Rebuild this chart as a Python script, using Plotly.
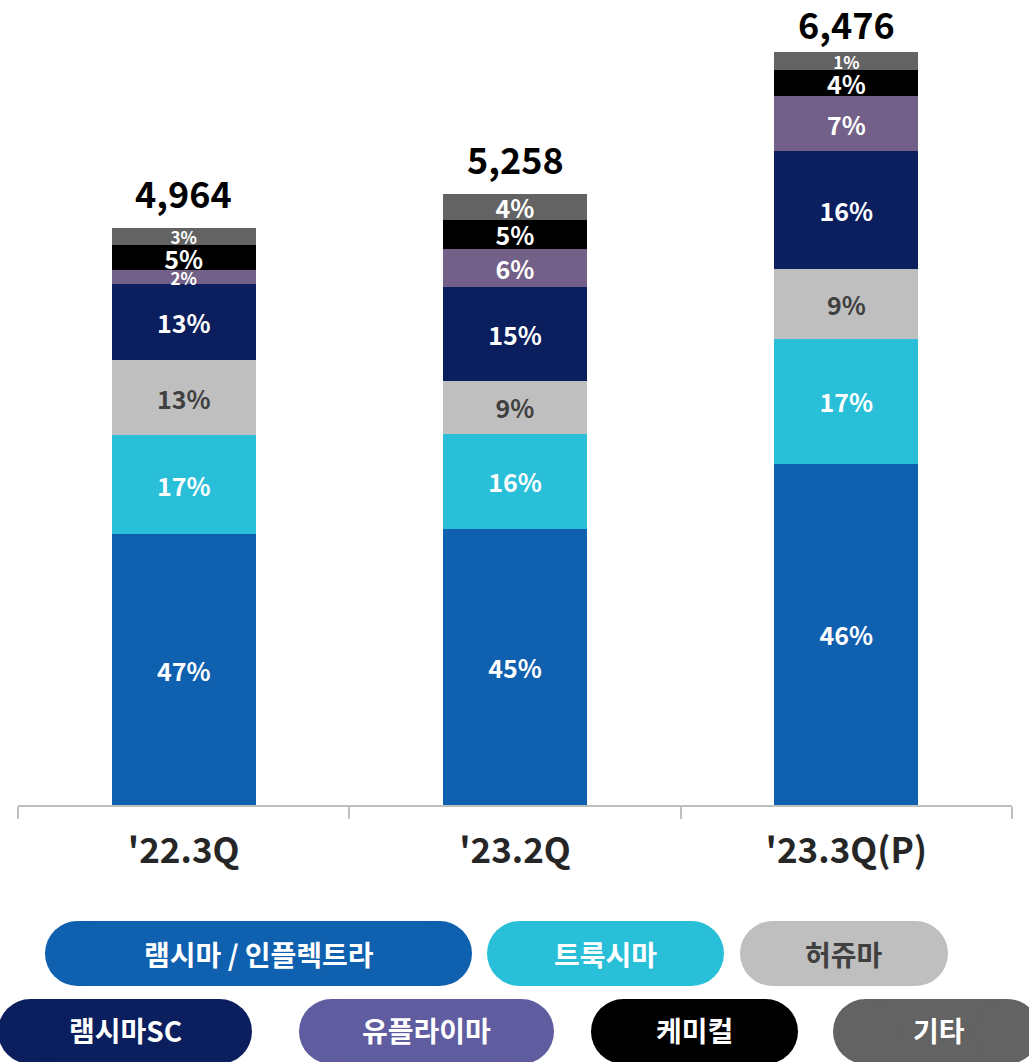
import plotly.graph_objects as go

# ---------------- data ----------------
categories = ["'22.3Q", "'23.2Q", "'23.3Q(P)"]
totals = [4964, 5258, 6476]

series_names = ["램시마 / 인플렉트라", "트룩시마", "허쥬마", "램시마SC", "유플라이마", "케미컬", "기타"]

remsima = [2329, 2376, 2935]
truxima = [851, 817, 1072]
herzuma = [645, 456, 602]
remsima_sc = [654, 808, 1015]
yuflyma = [120, 327, 473]
chemical = [215, 250, 224]
others = [150, 224, 155]

remsima_pct = ["47%", "45%", "46%"]
truxima_pct = ["17%", "16%", "17%"]
herzuma_pct = ["13%", "9%", "9%"]
remsima_sc_pct = ["13%", "15%", "16%"]
yuflyma_pct = ["2%", "6%", "7%"]
chemical_pct = ["5%", "5%", "4%"]
others_pct = ["3%", "4%", "1%"]

# ---------------- style ----------------
W, H = 1029, 1062
ML, MR, MT, MB = 18, 17, 10, 257
PW, PH = W - ML - MR, H - MT - MB
FONT = "Noto Sans CJK KR"

bar_colors = ["#1060b0", "#29bfd8", "#bfbfbf", "#0b1f5e", "#736089", "#000000", "#636363"]
legend_colors = ["#1060b0", "#29bfd8", "#bfbfbf", "#0b1f5e", "#605ca0", "#000000", "#636363"]
text_colors = ["white", "white", "#404040", "white", "white", "white", "white"]

values = [remsima, truxima, herzuma, remsima_sc, yuflyma, chemical, others]
labels = [remsima_pct, truxima_pct, herzuma_pct, remsima_sc_pct, yuflyma_pct, chemical_pct, others_pct]

fig = go.Figure()
for i, (name, vals, labs) in enumerate(zip(series_names, values, labels)):
    sizes = [17 if v < 180 else 25 for v in vals]
    fig.add_trace(go.Bar(
        x=categories, y=vals, name=name,
        marker=dict(color=bar_colors[i], line=dict(width=0)),
        text=[f"<b>{t}</b>" for t in labs],
        textposition="inside", insidetextanchor="middle",
        constraintext="none",
        textfont=dict(family=FONT, size=sizes, color=text_colors[i]),
        hoverinfo="skip",
    ))

# total labels (the tallest one sits a little closer to its bar)
total_shift = [8, 8, 1]
for c, t, s in zip(categories, totals, total_shift):
    fig.add_annotation(x=c, y=t, text=f"<b>{t:,}</b>", showarrow=False,
                       yanchor="bottom", yshift=s,
                       font=dict(family=FONT, size=36, color="#000000"))

ymax = PH * 6476 / 753

# legend pills
def px2paper_x(px):
    return (px - ML) / PW

def px2paper_y(py):
    return (MT + PH - py) / PH

pills = [
    (45, 472, 921, 986), (487, 724, 921, 986), (740, 948, 921, 986),
    (-2, 252, 999, 1064), (299, 554, 999, 1064), (591, 798, 999, 1064), (833, 1040, 999, 1064),
]
shapes = []
for i, (x0, x1, y0, y1) in enumerate(pills):
    r = (y1 - y0) / 2
    col = legend_colors[i]
    shapes.append(dict(type="rect", xref="paper", yref="paper",
                       x0=px2paper_x(x0 + r), x1=px2paper_x(x1 - r),
                       y0=px2paper_y(y1), y1=px2paper_y(y0),
                       fillcolor=col, line=dict(width=0), layer="above"))
    for cx in (x0 + r, x1 - r):
        shapes.append(dict(type="circle", xref="paper", yref="paper",
                           x0=px2paper_x(cx - r), x1=px2paper_x(cx + r),
                           y0=px2paper_y(y1), y1=px2paper_y(y0),
                           fillcolor=col, line=dict(width=0), layer="above"))
    tx = (x0 + x1) / 2 if i != 6 else 939
    ty = (y0 + y1) / 2 if i < 3 else 1030
    fig.add_annotation(xref="paper", yref="paper", x=px2paper_x(tx), y=px2paper_y(ty),
                       text=f"<b>{series_names[i]}</b>", showarrow=False,
                       xanchor="center", yanchor="middle",
                       font=dict(family=FONT, size=28,
                                 color="#404040" if i == 2 else "white"))

fig.update_layout(
    width=W, height=H,
    margin=dict(l=ML, r=MR, t=MT, b=MB, pad=0),
    barmode="stack", bargap=0.565,
    plot_bgcolor="white", paper_bgcolor="white",
    showlegend=False,
    shapes=shapes,
    font=dict(family=FONT),
)
fig.update_xaxes(
    showline=True, linecolor="#bfbfbf", linewidth=2,
    ticks="outside", tickson="boundaries", ticklen=12, tickcolor="#bfbfbf", tickwidth=2,
    tickfont=dict(family=FONT, size=35, color="#262626"),
    tickprefix="<b>", ticksuffix="</b>",
    showgrid=False, ticklabelstandoff=14,
)
fig.update_yaxes(range=[0, ymax], visible=False, showgrid=False, zeroline=False)

fig.write_html("out.html", config={"displayModeBar": False},
               post_script="document.body.style.margin='0px';")
